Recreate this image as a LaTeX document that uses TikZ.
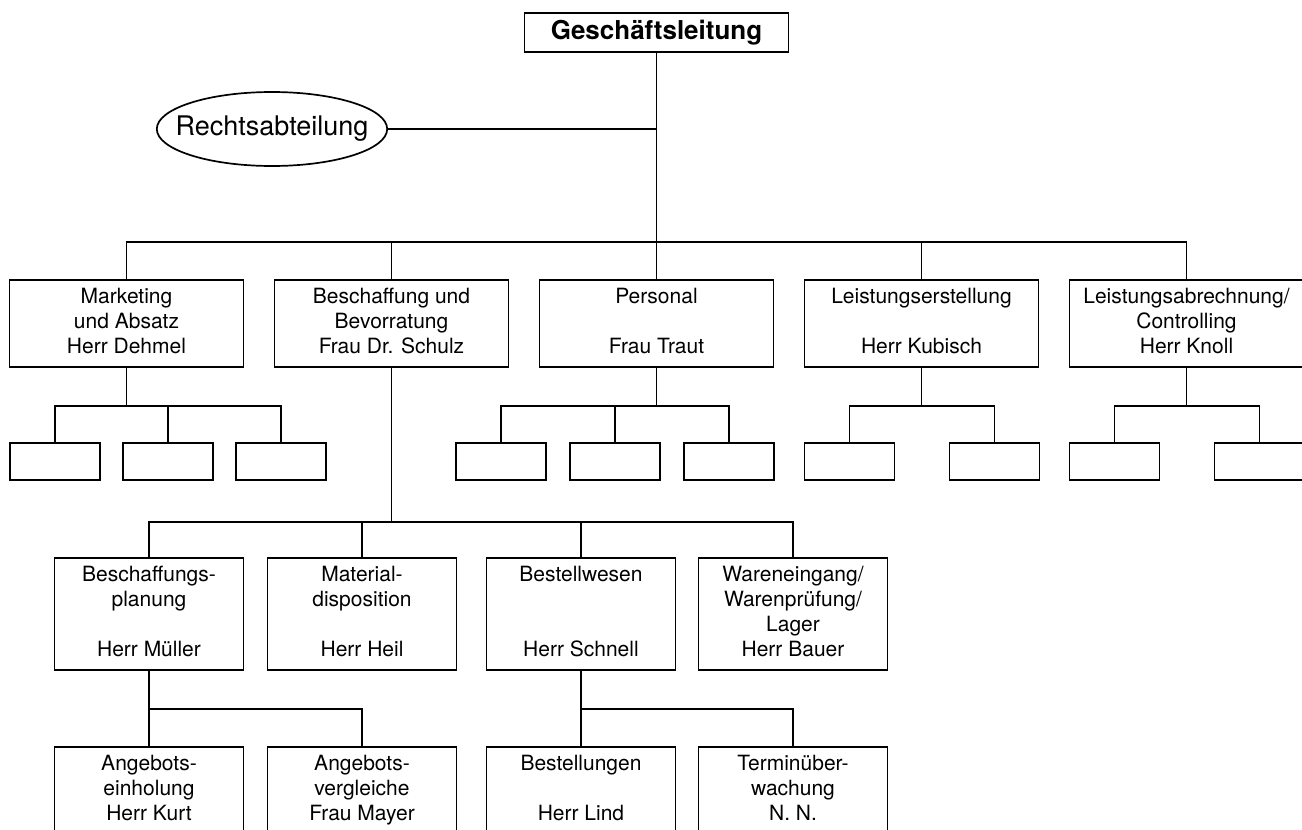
\documentclass[tikz,border=0pt]{standalone}
\usepackage{fontspec}
\setmainfont{TeX Gyre Heros}
\usetikzlibrary{positioning,shapes.geometric}

\begin{document}
\begin{tikzpicture}[x=1pt,y=-1pt,line width=1.7pt,node distance=265pt,
  unit/.style={draw,rectangle,align=center,inner sep=0pt,minimum width=234pt,minimum height=87pt,font=\fontsize{21}{25}\selectfont,
    execute at begin node={\vrule height 15.5pt width 0pt},execute at end node={\vrule depth 4.5pt width 0pt}},
  team/.style={draw,rectangle,inner sep=0pt,minimum width=90pt,minimum height=37pt},
  group/.style={unit,minimum width=189pt,minimum height=112pt},
  subgroup/.style={unit,minimum width=189pt},
  head/.style={draw,rectangle,inner sep=0pt,minimum width=264pt,minimum height=39pt,font=\fontsize{26}{30}\selectfont\bfseries},
  staff/.style={draw,ellipse,inner xsep=-15pt,inner ysep=13pt,minimum width=230pt,minimum height=74pt,font=\fontsize{27}{30}\selectfont}]
\useasboundingbox (0,0) rectangle (1302,830);
\clip (0,0) rectangle (1302,830);
% Leitung
\node[head] (gl) at (656.5,32.5) {Geschäftsleitung};
\node[staff] (recht) at (272,129) {Rechtsabteilung};
% Hauptabteilungen
\node[unit] (mkt) at (126.5,323.5) {Marketing\\und Absatz\\Herr Dehmel};
\node[unit] (bes) [right of=mkt] {Beschaffung und\\Bevorratung\\Frau Dr. Schulz};
\node[unit] (pers) [right of=bes] {Personal\\~\\Frau Traut};
\node[unit] (ler) [right of=pers] {Leistungserstellung\\~\\Herr Kubisch};
\node[unit] (lab) [right of=ler] {Leistungsabrechnung/\\Controlling\\Herr Knoll};
% Stellen
\node[team] (m1) at (55,461.5) {};
\node[team] (m2) [right of=m1, node distance=113pt] {};
\node[team] (m3) [right of=m2, node distance=113pt] {};
\node[team] (p1) at (501,461.5) {};
\node[team] (p2) [right of=p1, node distance=114pt] {};
\node[team] (p3) [right of=p2, node distance=114pt] {};
\node[team] (l1) at (849.5,461.5) {};
\node[team] (l2) [right of=l1, node distance=145pt] {};
\node[team] (a1) at (1114.5,461.5) {};
\node[team] (a2) [right of=a1, node distance=145pt] {};
% Beschaffung
\node[group] (plan) at (149,614) {Beschaffungs-\\planung\\~\\Herr Müller};
\node[group] (mat) at (362,614) {Material-\\disposition\\~\\Herr Heil};
\node[group] (bestw) at (581,614) {Bestellwesen\\~\\~\\Herr Schnell};
\node[group] (lager) at (793,614) {Wareneingang/\\Warenprüfung/\\Lager\\Herr Bauer};
\node[subgroup] (einh) at (149,790.5) {Angebots-\\einholung\\Herr Kurt};
\node[subgroup] (vergl) at (362,790.5) {Angebots-\\vergleiche\\Frau Mayer};
\node[subgroup] (bestl) at (581,790.5) {Bestellungen\\~\\Herr Lind};
\node[subgroup] (termin) at (793,790.5) {Terminüber-\\wachung\\N. N.};
% Verbindungen
\coordinate (bus) at (656.5,242);
\draw (gl) -- (pers);
\draw (recht) -- (recht -| gl);
\draw (mkt) |- (bus) -| (lab);
\draw (bes) -- (bes |- bus);
\draw (ler) -- (ler |- bus);
\draw (mkt.south) -- ++(0,38) coordinate (mbus);
\draw (m1) |- (mbus) -| (m3);
\draw (m2) -- (m2 |- mbus);
\draw (pers.south) -- ++(0,38) coordinate (pbus);
\draw (p1) |- (pbus) -| (p3);
\draw (p2) -- (p2 |- pbus);
\draw (ler.south) -- ++(0,38) coordinate (lbus);
\draw (l1) |- (lbus) -| (l2);
\draw (lab.south) -- ++(0,38) coordinate (abus);
\draw (a1) |- (abus) -| (a2);
\draw (bes.south) -- ++(0,154) coordinate (bbus);
\draw (plan) |- (bbus) -| (lager);
\draw (mat) -- (mat |- bbus);
\draw (bestw) -- (bestw |- bbus);
\draw (plan) -- (einh);
\draw (plan.south) -- ++(0,38) coordinate (kbus);
\draw (kbus) -| (vergl);
\draw (bestw) -- (bestl);
\draw (bestw.south) -- ++(0,38) coordinate (tbus);
\draw (tbus) -| (termin);
\end{tikzpicture}
\end{document}
